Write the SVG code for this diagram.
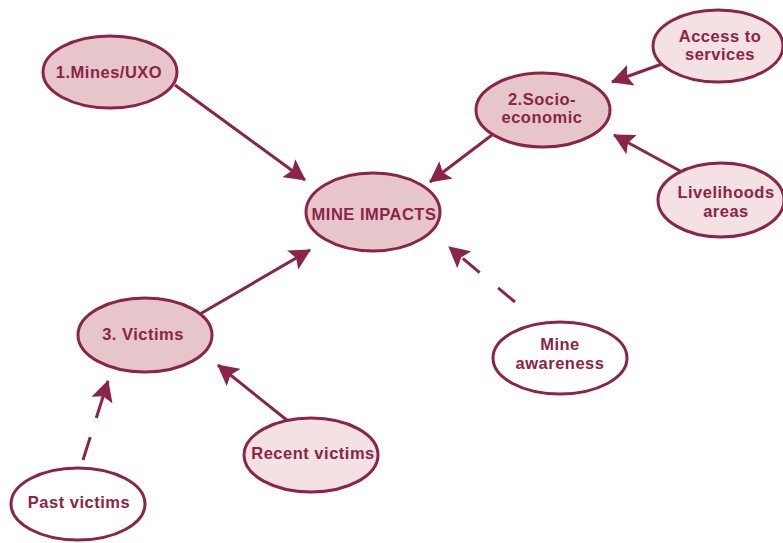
<svg xmlns="http://www.w3.org/2000/svg" width="783" height="543" viewBox="0 0 783 543">
<defs>
<marker id="ah" markerUnits="userSpaceOnUse" viewBox="0 0 21 22" refX="20" refY="11" markerWidth="21" markerHeight="22" orient="auto">
<path d="M0,0 L21,11 L0,22 L4,11 Z" fill="#8c2447"/>
</marker>
<style>
.n ellipse{stroke:#8c2447;stroke-width:3}
.main ellipse{fill:#e6c6ca}
.sub ellipse{fill:#f3e1e3}
.out ellipse{fill:#ffffff}
text{font-family:"Liberation Sans",Arial,sans-serif;font-weight:bold;font-size:16.5px;fill:#8c2447;text-anchor:middle;letter-spacing:0.5px}
.c line{stroke:#8c2447;stroke-width:3;marker-end:url(#ah)}
</style>
</defs>
<rect width="783" height="543" fill="#ffffff"/>
<g class="c" id="connectors">
<line x1="175" y1="85" x2="305" y2="180"/>
<line x1="492" y1="135" x2="430" y2="182"/>
<line x1="662" y1="64" x2="612" y2="82"/>
<line x1="682" y1="172" x2="614" y2="135"/>
<line x1="200" y1="314" x2="310" y2="250"/>
<line x1="515" y1="302" x2="449" y2="247" stroke-dasharray="22 24 22 30"/>
<line x1="288" y1="421" x2="218" y2="365"/>
<line x1="83" y1="460" x2="108" y2="381" stroke-dasharray="24 20 60"/>
</g>
<g id="mines" class="n main"><ellipse cx="110" cy="72" rx="67" ry="36"/><text x="109" y="78">1.Mines/UXO</text></g>
<g id="impacts" class="n main"><ellipse cx="373" cy="212" rx="67" ry="39"/><text x="374" y="220">MINE IMPACTS</text></g>
<g id="socio" class="n main"><ellipse cx="543" cy="110" rx="67" ry="37"/><text x="542" y="105">2.Socio-</text><text x="542" y="123">economic</text></g>
<g id="access" class="n sub"><ellipse cx="718" cy="46" rx="65" ry="36"/><text x="720" y="42">Access to</text><text x="720" y="60">services</text></g>
<g id="livelihoods" class="n sub"><ellipse cx="721" cy="200" rx="63" ry="37"/><text x="726" y="198">Livelihoods</text><text x="726" y="217">areas</text></g>
<g id="awareness" class="n out"><ellipse cx="560" cy="358" rx="67" ry="36"/><text x="560" y="350">Mine</text><text x="560" y="369">awareness</text></g>
<g id="victims" class="n main"><ellipse cx="145" cy="335" rx="67" ry="37"/><text x="143" y="340">3. Victims</text></g>
<g id="recent" class="n sub"><ellipse cx="311" cy="455" rx="67" ry="37"/><text x="313" y="459">Recent victims</text></g>
<g id="past" class="n out"><ellipse cx="78" cy="504" rx="67" ry="36"/><text x="79" y="508">Past victims</text></g>
</svg>
